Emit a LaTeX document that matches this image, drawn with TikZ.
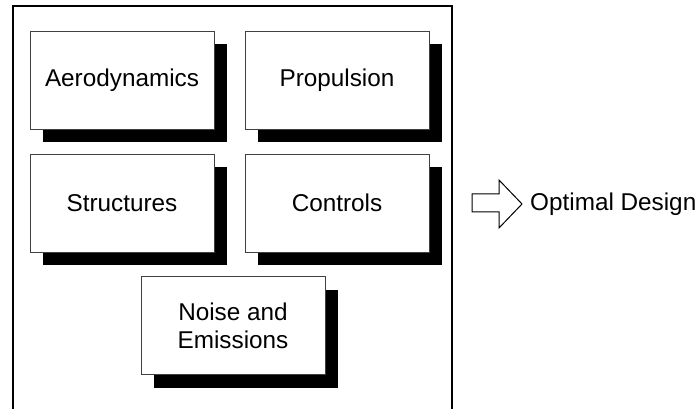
\documentclass[tikz,border=0pt]{standalone}
\usepackage{fontspec}
\setmainfont{Liberation Sans}
\usetikzlibrary{shadows}
\tikzset{
  x=1pt, y=1pt,
}
\tikzstyle{discipline}=[draw=black!75,fill=white,line width=0.9pt,minimum width=184pt,minimum height=98pt,align=center,
  general shadow={fill=black,shadow xshift=13pt,shadow yshift=-13pt}]
\tikzstyle{frame}=[line width=2pt]
\tikzstyle{bigarrow}=[draw,line width=1pt,fill=white,line join=miter]
\tikzstyle{every node}=[font=\fontsize{24.3}{28}\selectfont]

\begin{document}
\begin{tikzpicture}
    \useasboundingbox (0,0) rectangle (697,409);
    \draw[frame] (12.5,0) -- (12.5,402.5) -- (452,402.5) -- (452,0);
    \node[discipline] (aero) at (122,328.75) {Aerodynamics};
    \node[discipline] (prop) at (337,328.75) {Propulsion};
    \node[discipline] (struct) at (122,206) {Structures};
    \node[discipline] (ctrl) at (337,206) {Controls};
    \node[discipline] (noise) at (233,83.25) {Noise and\\Emissions};
    \node[anchor=west,inner sep=0pt] (opt) at (530,205) {Optimal Design};
    \draw[bigarrow] (472,215) -- (499,215) -- (499,229) -- (522,205) -- (499,181) -- (499,197) -- (472,197) -- cycle;
  \end{tikzpicture}
\end{document}
